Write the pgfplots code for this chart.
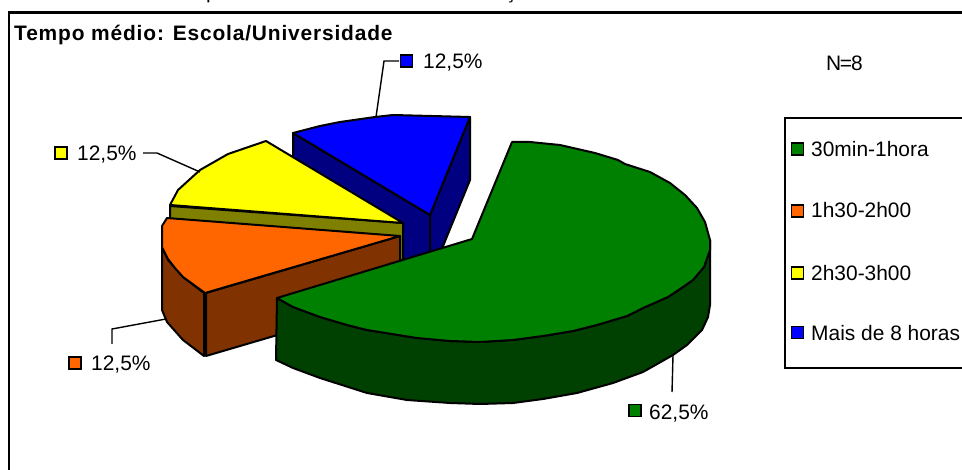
\documentclass[border=0pt]{standalone}
\usepackage{fontspec}
\setmainfont{Liberation Sans}
\usepackage{pgfplots}
\pgfplotsset{compat=1.18}
\definecolor{pgreen}{RGB}{0,128,0}
\definecolor{pgreend}{RGB}{0,64,0}
\definecolor{porange}{RGB}{255,102,0}
\definecolor{porangeD}{RGB}{128,51,0}
\definecolor{pyellow}{RGB}{255,255,0}
\definecolor{pyellowD}{RGB}{128,128,0}
\definecolor{pblue}{RGB}{0,0,255}
\definecolor{pblueD}{RGB}{0,0,128}
\tikzset{
    slice/.style={draw=black, line width=2bp, line join=round},
    key/.style={only marks, mark=square*, mark size=6bp,
        mark options={draw=black, line width=1.7bp, fill=#1}},
    lead/.style={draw=black, line width=1.4bp},
    lbl/.style={anchor=base west, inner sep=0pt, font=\fontsize{21}{25}\selectfont},
}
\begin{document}
\begin{tikzpicture}[x=1bp,y=1bp]
\useasboundingbox (0,0) rectangle (962,470);
\begin{axis}[
    at={(0,0)}, anchor=south west,
    scale only axis, width=962bp, height=470bp,
    xmin=0, xmax=962, ymin=0, ymax=470, y dir=reverse,
    hide axis,
]
% blue slice
\addplot[slice, fill=pblueD] coordinates {(293,133)(430,215)(430,278)(293,196)} --cycle;
\addplot[slice, fill=pblueD] coordinates {(430,215)(470,117)(470,180)(430,278)} --cycle;
\addplot[slice, fill=pblue] coordinates {(293,133)(320,126)(340,122)(375,117)(393,115)(470,117)(430,215)} --cycle;
% yellow slice
\addplot[slice, fill=pyellowD] coordinates {(170,206)(403,223)(403,285)(170,268)} --cycle;
\addplot[slice, fill=pyellow] coordinates {(266,141)(228,154)(200,170)(178,190)(170,205)(403,223)} --cycle;
% orange slice
\addplot[slice, fill=porangeD] coordinates {(162,247)(168,260)(183,277)(204,293)(204,356)(183,340)(167,322)(162,310)} --cycle;
\addplot[slice, fill=porangeD] coordinates {(206,293)(400,236)(400,299)(206,356)} --cycle;
\addplot[slice, fill=porange] coordinates {(167,218)(162,226)(162,247)(168,259)(175,268)(183,277)(205,293)(400,236)} --cycle;
% green slice
\addplot[slice, fill=pgreend] coordinates {(277,298)(293,307)(320,317)(347,325)(367,330)(417,338)(450,341)(480,342)(513,340)(543,336)(573,331)(597,325)(627,316)(643,308)(668,297)(683,287)(693,280)(704,267)(710,250)(710,240)(710,305)(708,317)(702,330)(687,345)(673,355)(643,372)(613,383)(577,393)(543,399)(513,403)(480,404)(450,403)(407,400)(367,393)(320,378)(293,368)(276,360)} --cycle;
\addplot[slice, fill=pgreen] coordinates {(472,239)(512,142)(530,142)(560,145)(595,153)(618,160)(625,164)(650,172)(670,183)(685,195)(697,208)(705,222)(710,240)(710,250)(704,267)(693,280)(683,287)(668,297)(643,308)(627,316)(597,325)(573,331)(543,336)(513,340)(480,342)(450,341)(417,338)(367,330)(347,325)(320,317)(293,307)(277,298)} --cycle;
% leader lines
\addplot[lead] coordinates {(376,117)(384,61)(399,61)};
\addplot[lead] coordinates {(200,172)(157,153)(143,153)};
\addplot[lead] coordinates {(166,319)(112,329)(112,344)};
\addplot[lead] coordinates {(673,355)(672,392)};
% data label keys
\addplot[key=pblue] coordinates {(406.5,61)};
\addplot[key=pyellow] coordinates {(61,153)};
\addplot[key=porange] coordinates {(75,363)};
\addplot[key=pgreen] coordinates {(635,410.5)};
% legend keys
\addplot[key=pgreen] coordinates {(797.5,149)};
\addplot[key=porange] coordinates {(797.5,211)};
\addplot[key=pyellow] coordinates {(797.5,273)};
\addplot[key=pblue] coordinates {(797.5,332.5)};
% frame and legend box
\draw[line width=2.2bp] (axis cs:9,470) -- (axis cs:9,12.5) -- (axis cs:962,12.5);
\draw[line width=1.8bp] (axis cs:962,118) -- (axis cs:785,118) -- (axis cs:785,368) -- (axis cs:962,368);
% texts
\node[lbl, font=\fontsize{21}{25}\selectfont\bfseries\addfontfeature{LetterSpace=4}] at (axis cs:14,41) {Tempo médio: Escola/Universidade};
\node[lbl] at (axis cs:423,69) {12,5\%};
\node[lbl] at (axis cs:77,161) {12,5\%};
\node[lbl] at (axis cs:91,371) {12,5\%};
\node[lbl] at (axis cs:649,419) {62,5\%};
\node[lbl] at (axis cs:826,71) {N\kern-1.5bp=\kern-1bp 8};
\node[lbl] at (axis cs:811,157) {30min-1hora};
\node[lbl] at (axis cs:811,218) {1h30-2h00};
\node[lbl] at (axis cs:811,281) {2h30-3h00};
\node[lbl] at (axis cs:811,341) {Mais de 8 horas};
\node[lbl] at (axis cs:206,-1) {p};
\node[lbl] at (axis cs:505,-1) {ç};
\end{axis}
\end{tikzpicture}
\end{document}
